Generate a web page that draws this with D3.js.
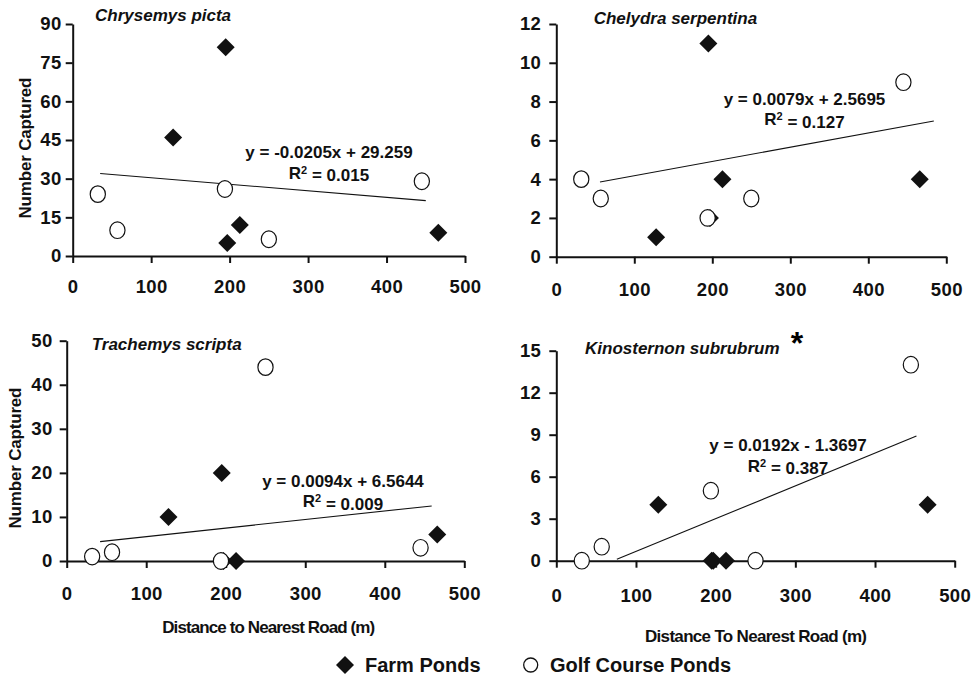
<!DOCTYPE html>
<html>
<head>
<meta charset="utf-8">
<script src="https://cdn.jsdelivr.net/npm/d3@7"></script>
<style>
  body { margin: 0; background: #fff; }
  svg { display: block; }
  .tick text { font-family: "Liberation Sans Narrow", "Liberation Sans", Arial, sans-serif; font-weight: bold; font-size: 18.5px; letter-spacing: 0.4px; fill: #111; }
  .domain, .tick line { stroke: #111; stroke-width: 2; }
  .title { font-family: "Liberation Sans", Arial, sans-serif; font-weight: bold; font-style: italic; font-size: 17px; fill: #111; }
  .eq { font-family: "Liberation Sans", Arial, sans-serif; font-weight: bold; font-size: 17px; fill: #111; }
  .axtitle { font-family: "Liberation Sans Narrow", "Liberation Sans", Arial, sans-serif; font-weight: bold; font-size: 17px; fill: #111; }
  .legend { font-family: "Liberation Sans", Arial, sans-serif; font-weight: bold; font-size: 20px; fill: #111; }
</style>
</head>
<body>
<script>
// pond distances to nearest road (m)
var farmDist = [128, 195, 197, 213, 466];
var golfDist = [32, 57, 194, 250, 445];

var species = ["Chrysemys picta", "Chelydra serpentina", "Trachemys scripta", "Kinosternon subrubrum"];

// number captured per pond, same order as the distances
var farmCounts = [
  [46, 81, 5, 12, 9],
  [1, 11, 2, 4, 4],
  [10, 20, 0, 0, 6],
  [4, 0, 0, 0, 4]
];
var golfCounts = [
  [24, 10, 26, 6.5, 29],
  [4, 3, 2, 3, 9],
  [1, 2, 0, 44, 3],
  [0, 1, 5, 0, 14]
];

// trend line end points as drawn in the figure
var trendLines = [
  [[35, 32], [450, 21.5]],
  [[56, 3.85], [484, 7.0]],
  [[42, 4.4], [459, 12.5]],
  [[76, 0.1], [452, 8.9]]
];
var equations = ["y = -0.0205x + 29.259", "y = 0.0079x + 2.5695", "y = 0.0094x + 6.5644", "y = 0.0192x - 1.3697"];
var rSquared = ["0.015", "0.127", "0.009", "0.387"];

var xTicks = [0, 100, 200, 300, 400, 500];
var yTicks = [
  [0, 15, 30, 45, 60, 75, 90],
  [0, 2, 4, 6, 8, 10, 12],
  [0, 10, 20, 30, 40, 50],
  [0, 3, 6, 9, 12, 15]
];

// panel geometry (pixels)
var panels = [
  {left: 72.7, right: 465, top: 24, bottom: 256, xPad: 17, yPad: 4, title: [95, 15], eq: [329, 151.7, 172.7], yTitle: [25, 148], xTitle: null},
  {left: 556.3, right: 946.3, top: 24, bottom: 256.7, xPad: 19, yPad: 8, title: [593.7, 18.3], eq: [804.5, 99, 119.3], yTitle: null, xTitle: null},
  {left: 66.7, right: 464.3, top: 340.7, bottom: 561, xPad: 19, yPad: 7, title: [91.7, 344], eq: [343, 480.7, 501], yTitle: [15, 458], xTitle: [268.7, 626.7, "Distance to Nearest Road (m)", 213]},
  {left: 556.3, right: 954.7, top: 350.7, bottom: 560.7, xPad: 21, yPad: 8, title: [585, 348.3], eq: [788, 445, 465.7], yTitle: null, xTitle: [756, 636, "Distance To Nearest Road (m)", 222]}
];

var width = 974, height = 688;

var svg = d3.select("body").append("svg")
    .attr("width", width)
    .attr("height", height);

var diamond = d3.symbol().type(d3.symbolSquare).size(162);

panels.forEach(function(p, i) {
  var x = d3.scaleLinear().domain([0, 500]).range([p.left, p.right]);
  var yMax = yTicks[i][yTicks[i].length - 1];
  var y = d3.scaleLinear().domain([0, yMax]).range([p.bottom, p.top]);

  var g = svg.append("g");

  g.append("g")
      .attr("transform", "translate(0," + p.bottom + ")")
      .call(d3.axisBottom(x).tickValues(xTicks).tickSize(7).tickSizeOuter(0).tickPadding(p.xPad));

  g.append("g")
      .attr("transform", "translate(" + p.left + ",0)")
      .call(d3.axisLeft(y).tickValues(yTicks[i]).tickSize(7).tickSizeOuter(0).tickPadding(p.yPad));

  // trend line
  g.append("line")
      .attr("x1", x(trendLines[i][0][0])).attr("y1", y(trendLines[i][0][1]))
      .attr("x2", x(trendLines[i][1][0])).attr("y2", y(trendLines[i][1][1]))
      .attr("stroke", "#111").attr("stroke-width", 1.1);

  // farm ponds
  g.selectAll(".farm").data(farmDist).enter().append("path")
      .attr("class", "farm")
      .attr("d", diamond)
      .attr("transform", function(d, j) {
        return "translate(" + x(d) + "," + y(farmCounts[i][j]) + ") rotate(45)";
      })
      .attr("fill", "#111");

  // golf course ponds
  g.selectAll(".golf").data(golfDist).enter().append("ellipse")
      .attr("class", "golf")
      .attr("cx", function(d) { return x(d); })
      .attr("cy", function(d, j) { return y(golfCounts[i][j]); })
      .attr("rx", 7.6).attr("ry", 8.3)
      .attr("fill", "#fff").attr("stroke", "#111").attr("stroke-width", 1.2);

  g.append("text")
      .attr("class", "title")
      .attr("x", p.title[0]).attr("y", p.title[1])
      .attr("dy", "0.35em")
      .text(species[i]);

  g.append("text")
      .attr("class", "eq")
      .attr("x", p.eq[0]).attr("y", p.eq[1])
      .attr("dy", "0.35em")
      .attr("text-anchor", "middle")
      .text(equations[i]);

  var r2 = g.append("text")
      .attr("class", "eq")
      .attr("x", p.eq[0]).attr("y", p.eq[2])
      .attr("dy", "0.35em")
      .attr("text-anchor", "middle");
  r2.append("tspan").text("R");
  r2.append("tspan").attr("dy", "-0.45em").style("font-size", "11px").text("2");
  r2.append("tspan").attr("dy", "0.45em").text(" = " + rSquared[i]);

  if (p.yTitle) {
    g.append("text")
        .attr("class", "axtitle")
        .attr("transform", "translate(" + p.yTitle[0] + "," + p.yTitle[1] + ") rotate(-90)")
        .attr("dy", "0.35em")
        .attr("text-anchor", "middle")
        .attr("textLength", 141)
        .attr("lengthAdjust", "spacing")
        .text("Number Captured");
  }
  if (p.xTitle) {
    g.append("text")
        .attr("class", "axtitle")
        .attr("x", p.xTitle[0]).attr("y", p.xTitle[1])
        .attr("dy", "0.35em")
        .attr("text-anchor", "middle")
        .attr("textLength", p.xTitle[3])
        .attr("lengthAdjust", "spacing")
        .text(p.xTitle[2]);
  }
});

// significance marker on Kinosternon
svg.append("text")
    .attr("x", 797).attr("y", 354)
    .attr("text-anchor", "middle")
    .style("font-family", "Liberation Sans, Arial, sans-serif")
    .style("font-weight", "bold")
    .style("font-size", "32px")
    .text("*");

// legend
var legend = svg.append("g");
legend.append("path")
    .attr("d", diamond)
    .attr("transform", "translate(345,665) rotate(45)")
    .attr("fill", "#111");
legend.append("text").attr("class", "legend")
    .attr("x", 365).attr("y", 665).attr("dy", "0.35em")
    .text("Farm Ponds");
legend.append("circle")
    .attr("cx", 530.7).attr("cy", 665).attr("r", 7)
    .attr("fill", "#fff").attr("stroke", "#111").attr("stroke-width", 1.3);
legend.append("text").attr("class", "legend")
    .attr("x", 550).attr("y", 665).attr("dy", "0.35em")
    .text("Golf Course Ponds");
</script>
</body>
</html>
